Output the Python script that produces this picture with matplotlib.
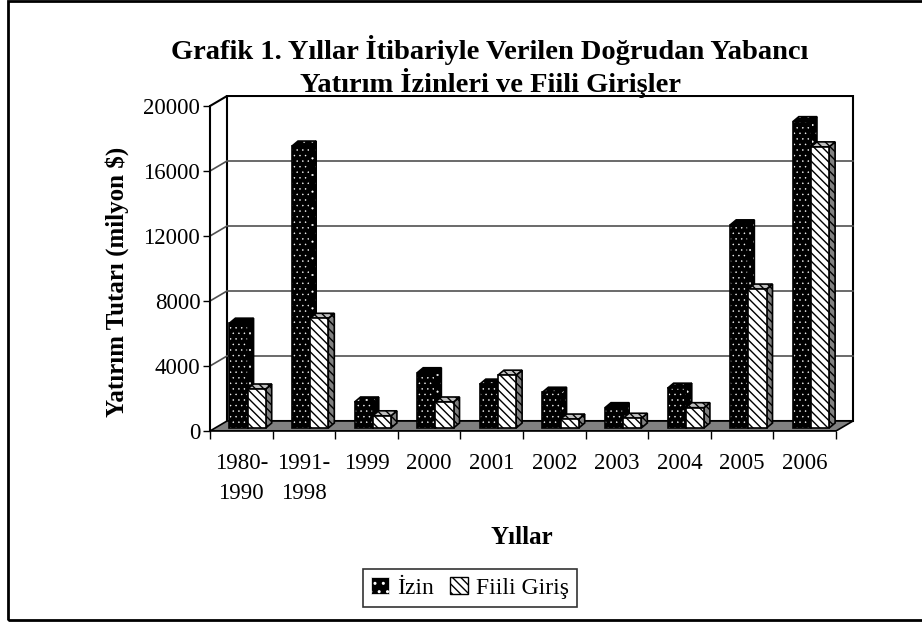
import numpy as np
import matplotlib
matplotlib.use('Agg')
import matplotlib.pyplot as plt
from matplotlib.patches import Polygon, Rectangle, Patch

plt.rcParams['font.family'] = ['Liberation Serif', 'DejaVu Serif']
plt.rcParams['hatch.linewidth'] = 1.0

# veriler (milyon $)
yillar = ['1980-\n1990', '1991-\n1998', '1999', '2000', '2001', '2002', '2003', '2004', '2005', '2006']
izin = [6450, 17350, 1600, 3400, 2700, 2200, 1250, 2450, 12500, 18850]
fiili = [2400, 6750, 750, 1600, 3250, 550, 600, 1250, 8550, 17300]
y_ticks = [0, 4000, 8000, 12000, 16000, 20000]

W, H = 922, 623
fig = plt.figure(figsize=(W / 100, H / 100), dpi=100)

# eksen yerlesimi (piksel)
px_cat = 62.6
px_val = 0.01625
ax_left, ax_bottom = 210, 431
xmax, ymax = 10.35, 20700
ax = fig.add_axes([ax_left / W, (H - ax_bottom) / H, xmax * px_cat / W, ymax * px_val / H])
ax.set_xlim(0, xmax)
ax.set_ylim(0, ymax)

DX, DY = 17 / px_cat, 10 / px_val      # zemin derinligi
bdx, bdy = 6 / px_cat, 5 / px_val       # cubuk derinligi
B = 3 / px_val                          # cubuk tabani
n = len(yillar)


def thin_dots(p):
    # noktali desen icin ince tarama
    if hasattr(p, 'set_hatch_linewidth'):
        p.set_hatch_linewidth(0.3)
    return p


# arka duvar
ax.add_patch(Rectangle((DX, DY), n, 20000, facecolor='white', edgecolor='black', lw=1.5, zorder=1))
ax.plot([0, DX], [20000, 20000 + DY], color='black', lw=1.5, zorder=1)
for v in y_ticks[1:-1]:
    ax.plot([DX, n + DX], [v + DY, v + DY], color='#505050', lw=1.2, zorder=1)
    ax.plot([0, DX], [v, v + DY], color='#505050', lw=1.2, zorder=1)

# zemin
ax.add_patch(Polygon([(0, 0), (n, 0), (n + DX, DY), (DX, DY)], closed=True,
                     facecolor='#808080', edgecolor='black', lw=1.2, zorder=2))

z = 3
for i in range(n):
    # izin
    x = i + 0.31
    w = 0.29
    v = izin[i]
    side = [(x + w, B), (x + w + bdx, B + bdy), (x + w + bdx, B + v + bdy), (x + w, B + v)]
    top = [(x, B + v), (x + bdx, B + v + bdy), (x + w + bdx, B + v + bdy), (x + w, B + v)]
    for poly in (side, top):
        ax.add_patch(thin_dots(Polygon(poly, closed=True, facecolor='black', edgecolor='white',
                                       hatch='..', lw=0, zorder=z)))
        ax.add_patch(Polygon(poly, closed=True, fill=False, edgecolor='black', lw=1.2, zorder=z))
    bars = ax.bar(x, v, w, bottom=B, align='edge', color='black', edgecolor='white', hatch='...', lw=0, zorder=z)
    for b in bars:
        thin_dots(b)
    ax.bar(x, v, w, bottom=B, align='edge', fill=False, edgecolor='black', lw=1.2, zorder=z)
    z += 1
    # fiili giris
    x = i + 0.60
    v = fiili[i]
    side = [(x + w, B), (x + w + bdx, B + bdy), (x + w + bdx, B + v + bdy), (x + w, B + v)]
    top = [(x, B + v), (x + bdx, B + v + bdy), (x + w + bdx, B + v + bdy), (x + w, B + v)]
    ax.add_patch(Polygon(side, closed=True, facecolor='#808080', edgecolor='black', hatch='\\\\\\\\', lw=1.2, zorder=z))
    ax.add_patch(Polygon(top, closed=True, facecolor='#c0c0c0', edgecolor='black', hatch='\\\\\\\\', lw=1.2, zorder=z))
    ax.bar(x, v, w, bottom=B, align='edge', color='white', edgecolor='black', hatch='\\\\\\\\', lw=1.2, zorder=z)
    z += 1

# eksenler
for s in ['top', 'right']:
    ax.spines[s].set_visible(False)
ax.spines['left'].set_bounds(0, 20000)
ax.spines['bottom'].set_bounds(0, n)
ax.spines['left'].set_linewidth(1.5)
ax.spines['bottom'].set_linewidth(1.2)
ax.spines['left'].set_zorder(50)
ax.set_yticks(y_ticks)
ax.set_yticklabels([str(t) for t in y_ticks])
ax.tick_params(axis='y', direction='out', length=5, width=1, labelsize=16.5, pad=2)
ax.set_xticks(np.arange(n + 1))
ax.set_xticklabels([])
ax.tick_params(axis='x', which='major', direction='out', length=6, width=1)
ax.set_xticks(np.arange(n) + 0.5, minor=True)
ax.set_xticklabels(yillar, minor=True, linespacing=1.55)
ax.tick_params(axis='x', which='minor', length=0, labelsize=16.5, pad=16)

fig.text(117 / W, 1 - 282 / H, 'Yatırım Tutarı (milyon $)', rotation=90, ha='center', va='center',
         fontsize=18, fontweight='bold')
fig.text(522 / W, 1 - 537 / H, 'Yıllar', ha='center', va='center', fontsize=18, fontweight='bold')
fig.text(490 / W, 1 - 50 / H, 'Grafik 1. Yıllar İtibariyle Verilen Doğrudan Yabancı',
         ha='center', va='center', fontsize=20.5, fontweight='bold')
fig.text(490 / W, 1 - 83 / H, 'Yatırım İzinleri ve Fiili Girişler',
         ha='center', va='center', fontsize=20.5, fontweight='bold')

h1 = thin_dots(Patch(facecolor='black', edgecolor='white', hatch='..', lw=0.5))
handles = [h1, Patch(facecolor='white', edgecolor='black', hatch='\\\\\\\\', lw=1)]
leg = fig.legend(handles, ['İzin', 'Fiili Giriş'], loc='center', bbox_to_anchor=(470 / W, 1 - 588 / H),
                 ncol=2, fontsize=17, frameon=True, fancybox=False, edgecolor='black',
                 handlelength=0.75, handleheight=0.75, handletextpad=0.35, columnspacing=0.7,
                 borderpad=0.35)
leg.get_frame().set_linewidth(1.2)

# dis cerceve
fig.patches.append(Rectangle((8 / W, 1 - 620 / H), 1, 619.5 / H, transform=fig.transFigure,
                             fill=False, edgecolor='black', lw=2))

fig.savefig('out.png', dpi=100)
